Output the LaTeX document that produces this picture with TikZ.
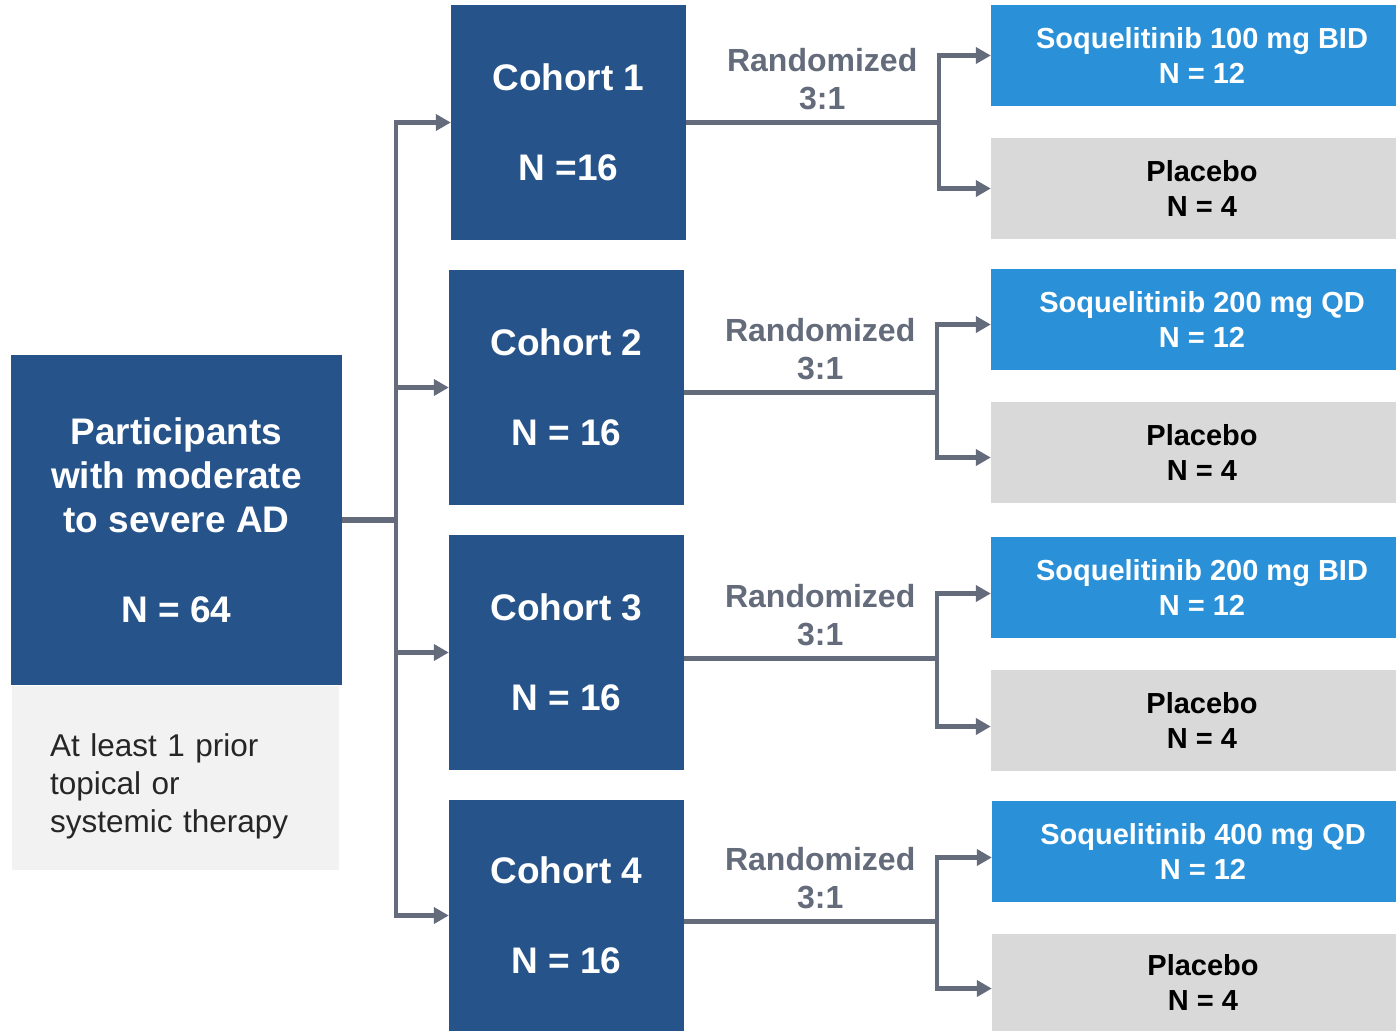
\documentclass[tikz,border=0pt]{standalone}
\usepackage{fontspec}
\setmainfont{Liberation Sans}
\usetikzlibrary{arrows.meta}
\definecolor{cohc}{HTML}{25538A}
\definecolor{armc}{HTML}{2A91D8}
\definecolor{pboc}{HTML}{D9D9D9}
\definecolor{critc}{HTML}{F2F2F2}
\definecolor{linec}{HTML}{646B7B}
\definecolor{txtc}{HTML}{262626}

\tikzset{
  cohort/.style={fill=cohc, text=white, font=\bfseries\fontsize{37}{45}\selectfont, align=center,
    minimum width=235pt, minimum height=235pt, inner sep=0pt},
  armbox/.style={fill=armc, text=white, font=\bfseries\fontsize{29}{35}\selectfont, align=center,
    minimum width=422pt, minimum height=101pt, inner sep=0pt},
  pbobox/.style={armbox, fill=pboc, text=black},
  link/.style={draw=linec, line width=4.5pt},
  arr/.style={link, -{Triangle[length=15pt,width=16pt]}},
  randlbl/.style={text=linec, font=\bfseries\fontsize{32}{38}\selectfont, align=center}
}

\begin{document}
\begin{tikzpicture}[x=1pt, y=-1pt]
  \fill[white] (0,0) rectangle (1396,1031);
  \useasboundingbox (0,0) rectangle (1396,1031);

  % participants + inclusion note
  \node[fill=cohc, text=white, font=\bfseries\fontsize{37}{44}\selectfont, align=center,
    minimum width=331pt, minimum height=330pt, inner sep=0pt] (main) at (176.5,520)
    {Participants\\with moderate\\to severe AD\\[46pt]N = 64};
  \node[fill=critc, text=txtc, font=\fontsize{31.5}{38}\selectfont, align=left,
    text width=251pt, inner xsep=38pt, minimum height=184pt, anchor=north west] (crit) at (12,686)
    {\rule{0pt}{40pt}At least 1 prior\\topical or\\systemic therapy};

  % cohorts
  \node[cohort] (c1) at (568.5,122.5) {Cohort 1\\[45pt]N =16};
  \node[cohort] (c2) at (566.5,387.5) {Cohort 2\\[45pt]N = 16};
  \node[cohort] (c3) at (566.5,652.5) {Cohort 3\\[45pt]N = 16};
  \node[cohort, minimum height=231pt] (c4) at (566.5,915.5) {Cohort 4\\[45pt]N = 16};

  % treatment arms
  \node[armbox] (trt1) at (1202,55.5) {Soquelitinib 100 mg BID\\N = 12};
  \node[pbobox] (pbo1) at (1202,188.5) {Placebo\\N = 4};
  \node[armbox] (trt2) at (1202,319.5) {Soquelitinib 200 mg QD\\N = 12};
  \node[pbobox] (pbo2) at (1202,452.5) {Placebo\\N = 4};
  \node[armbox] (trt3) at (1202,587.5) {Soquelitinib 200 mg BID\\N = 12};
  \node[pbobox] (pbo3) at (1202,720.5) {Placebo\\N = 4};
  \node[armbox] (trt4) at (1203,851.5) {Soquelitinib 400 mg QD\\N = 12};
  \node[pbobox, minimum height=97pt] (pbo4) at (1203,982.5) {Placebo\\N = 4};

  % split into cohorts
  \coordinate (split) at (396,520);
  \draw[link, line width=6.5pt] (main.east) -- (split);
  \foreach \c in {c1,c2,c3,c4}
    \draw[arr] (split) |- (\c.west);

  % randomization of each cohort
  \foreach \i/\dy in {1/0,2/5,3/6,4/6} {
    \coordinate (r\i) at ([xshift=253pt, yshift=-\dy pt]c\i.east);
    \draw[link] ([yshift=-\dy pt]c\i.east) -- (r\i);
    \draw[arr] (r\i) |- ([yshift=-\dy pt]trt\i.west);
    \draw[arr] (r\i) |- ([yshift=-\dy pt]pbo\i.west);
    \node[randlbl] (rl\i) at ([xshift=136pt, yshift=43pt-\dy pt]c\i.east) {Randomized\\3:1};
  }
\end{tikzpicture}
\end{document}
